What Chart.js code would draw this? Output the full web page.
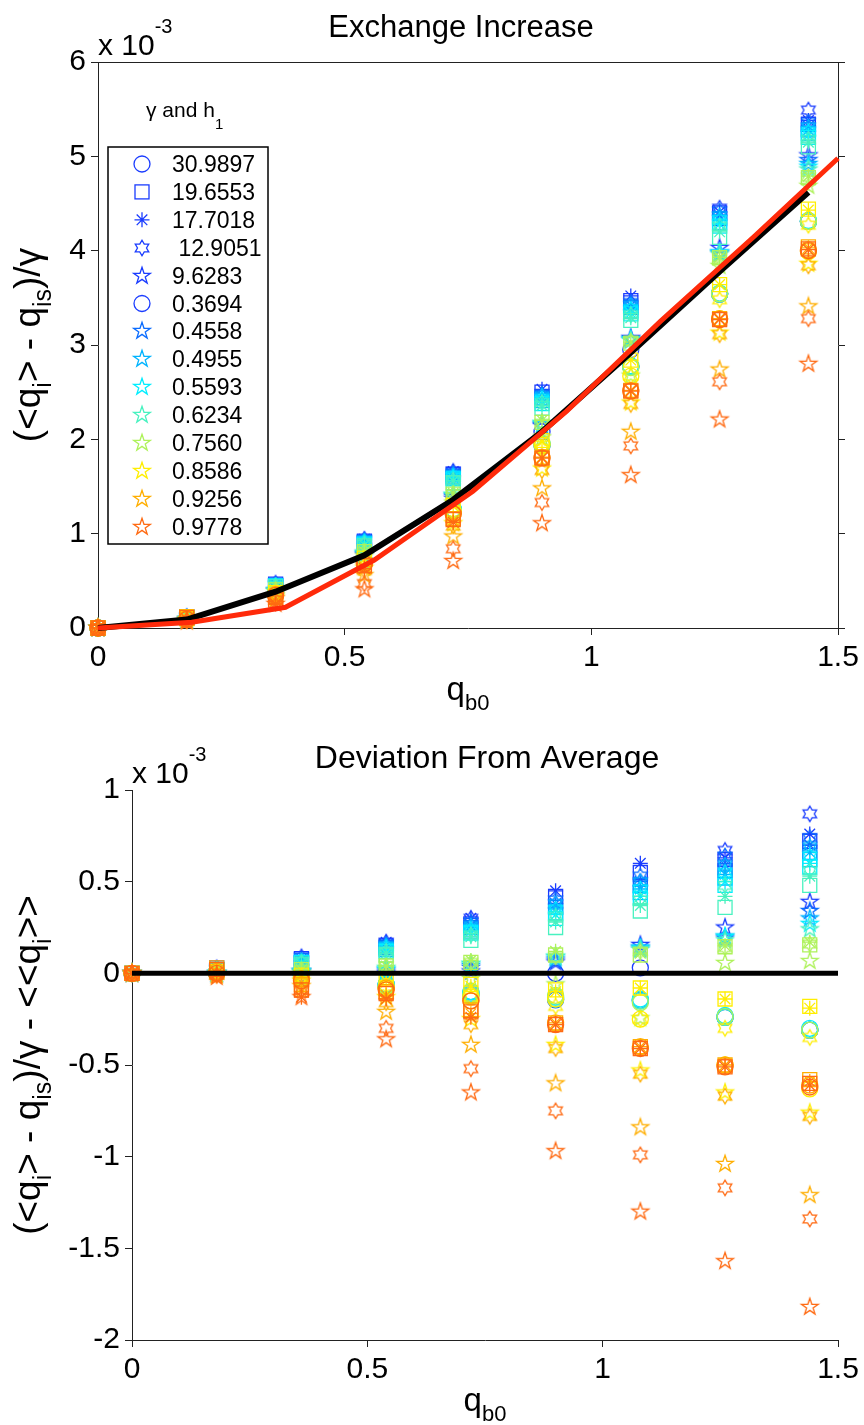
<!DOCTYPE html>
<html>
<head>
<meta charset="utf-8">
<script src="https://cdn.jsdelivr.net/npm/chart.js@4.4.1/dist/chart.umd.min.js"></script>
<style>
  html, body { margin: 0; padding: 0; background: #fff; }
  body { width: 864px; height: 1425px; position: relative; overflow: hidden; }
  .plot { position: absolute; left: 0; width: 864px; }
  #topWrap { top: 0; height: 725px; }
  #botWrap { top: 725px; height: 700px; }
</style>
</head>
<body>
<div class="plot" id="topWrap"><canvas id="topChart" width="864" height="725"></canvas></div>
<div class="plot" id="botWrap"><canvas id="botChart" width="864" height="700"></canvas></div>
<script>
// ---- data (y values in units of 1e-3) ----
const qb0 = [0, 0.18, 0.36, 0.54, 0.72, 0.9, 1.08, 1.26, 1.44];
const avgExchange = [0, 0.09, 0.385, 0.77, 1.36, 2.08, 2.92, 3.78, 4.62];   // black line, <<q_i>>
const theoryX = [0, 0.19, 0.38, 0.56, 0.76, 0.95, 1.14, 1.33, 1.5];       // red line
const theoryY = [0, 0.06, 0.22, 0.72, 1.45, 2.3, 3.25, 4.15, 4.98];
const zeroX = [0, 1.5];
const zeroY = [0, 0];

const gammaLabels = ['30.9897', '19.6553', '17.7018', ' 12.9051', '9.6283'];
const h1Labels = ['0.3694', '0.4558', '0.4955', '0.5593', '0.6234', '0.7560', '0.8586', '0.9256', '0.9778'];
const h1Colors = ['#1a3cff', '#0a6cff', '#00b4ff', '#00eeff', '#48f2c0', '#aef25a', '#ffee00', '#ffae00', '#ff6a12'];

// deviation from average, one row per h1 colour, columns follow qb0
const devCircle = [
  [0, 0.00, 0.00, -0.07, -0.12, 0.00, 0.03, -0.24, -0.31],
  [0, 0.00, -0.01, -0.06, -0.11, -0.145, -0.147, -0.235, -0.31],
  [0, 0.01, -0.01, -0.06, -0.10, -0.14, -0.15, -0.24, -0.31],
  [0, 0.01, -0.01, -0.06, -0.10, -0.13, -0.14, -0.23, -0.30],
  [0, 0.01, -0.02, -0.07, -0.11, -0.13, -0.15, -0.24, -0.31],
  [0, 0.00, -0.02, -0.07, -0.12, -0.12, -0.16, -0.235, -0.31],
  [0, 0.00, -0.03, -0.08, -0.13, -0.14, -0.25, -0.50, -0.63],
  [0, 0.01, -0.03, -0.08, -0.15, -0.27, -0.40, -0.50, -0.61],
  [0, 0.00, -0.04, -0.09, -0.15, -0.28, -0.41, -0.51, -0.62]
];
const devSquare = [
  [0, 0.03, 0.08, 0.15, 0.27, 0.42, 0.55, 0.62, 0.72],
  [0, 0.02, 0.07, 0.14, 0.25, 0.36, 0.48, 0.56, 0.66],
  [0, 0.02, 0.06, 0.13, 0.23, 0.33, 0.44, 0.52, 0.62],
  [0, 0.02, 0.06, 0.12, 0.22, 0.30, 0.41, 0.48, 0.58],
  [0, 0.02, 0.05, 0.10, 0.18, 0.25, 0.34, 0.36, 0.48],
  [0, 0.01, 0.02, 0.04, 0.06, 0.10, 0.10, 0.145, 0.155],
  [0, 0.01, -0.01, -0.03, -0.06, -0.09, -0.08, -0.14, -0.18],
  [0, 0.03, -0.06, -0.10, -0.20, -0.27, -0.40, -0.50, -0.58],
  [0, 0.02, -0.09, -0.11, -0.21, -0.28, -0.41, -0.51, -0.60]
];
const devAsterisk = [
  [0, 0.03, 0.08, 0.17, 0.30, 0.45, 0.60, 0.63, 0.76],
  [0, 0.02, 0.07, 0.15, 0.26, 0.38, 0.50, 0.59, 0.70],
  [0, 0.02, 0.07, 0.14, 0.25, 0.35, 0.46, 0.54, 0.66],
  [0, 0.02, 0.06, 0.13, 0.23, 0.32, 0.42, 0.50, 0.60],
  [0, 0.02, 0.05, 0.11, 0.20, 0.28, 0.37, 0.42, 0.53],
  [0, 0.01, 0.02, 0.04, 0.07, 0.12, 0.11, 0.15, 0.17],
  [0, 0.00, -0.02, -0.04, -0.07, -0.10, -0.08, -0.14, -0.19],
  [0, 0.01, -0.10, -0.12, -0.22, -0.27, -0.40, -0.50, -0.59],
  [0, 0.00, -0.13, -0.14, -0.24, -0.28, -0.41, -0.51, -0.61]
];
const devHexagram = [
  [0, 0.03, 0.09, 0.17, 0.30, 0.38, 0.50, 0.67, 0.87],
  [0, 0.02, 0.07, 0.16, 0.28, 0.40, 0.53, 0.64, 0.74],
  [0, 0.02, 0.07, 0.15, 0.26, 0.38, 0.50, 0.59, 0.69],
  [0, 0.02, 0.06, 0.14, 0.24, 0.35, 0.46, 0.55, 0.64],
  [0, 0.02, 0.06, 0.12, 0.21, 0.31, 0.40, 0.48, 0.56],
  [0, 0.01, 0.02, 0.04, 0.06, 0.09, 0.12, 0.14, 0.16],
  [0, 0.00, -0.02, -0.07, -0.13, -0.18, -0.25, -0.30, -0.35],
  [0, -0.01, -0.05, -0.16, -0.28, -0.41, -0.55, -0.67, -0.78],
  [0, -0.01, -0.09, -0.30, -0.52, -0.75, -0.99, -1.17, -1.34]
];
const devPentagram = [
  [0, 0.00, 0.01, 0.00, 0.01, 0.06, 0.155, 0.25, 0.39],
  [0, 0.00, 0.01, 0.01, 0.03, 0.07, 0.14, 0.19, 0.34],
  [0, 0.00, 0.01, 0.02, 0.04, 0.08, 0.13, 0.20, 0.30],
  [0, 0.00, 0.01, 0.02, 0.05, 0.09, 0.14, 0.20, 0.27],
  [0, 0.00, 0.01, 0.03, 0.05, 0.09, 0.13, 0.18, 0.24],
  [0, 0.00, 0.00, -0.01, -0.03, -0.06, -0.245, 0.057, 0.067],
  [0, -0.01, -0.04, -0.13, -0.25, -0.39, -0.53, -0.65, -0.76],
  [0, -0.01, -0.07, -0.21, -0.39, -0.60, -0.84, -1.04, -1.21],
  [0, -0.02, -0.13, -0.36, -0.65, -0.97, -1.30, -1.57, -1.82]
];

// ---- styling ----
const FONT = "'Liberation Sans', Arial, Helvetica, sans-serif";
const AXIS = '#222';
const MARK_W = 1.3;
const markerKinds = ['circle', 'rect', 'star', 'hexagram', 'pentagram'];
const devByMarker = [devCircle, devSquare, devAsterisk, devHexagram, devPentagram];
const markerRadius = { circle: 8, rect: 9.9, star: 7.5 };

function starCanvas(points, color, outer, inner) {
  const size = Math.ceil(outer * 2 + 4);
  const c = document.createElement('canvas');
  c.width = c.height = size;
  const g = c.getContext('2d');
  g.strokeStyle = color;
  g.lineWidth = MARK_W;
  g.beginPath();
  for (let k = 0; k < points * 2; k++) {
    const r = k % 2 ? inner : outer;
    const a = -Math.PI / 2 + k * Math.PI / points;
    const px = size / 2 + r * Math.cos(a), py = size / 2 + r * Math.sin(a);
    if (k) g.lineTo(px, py); else g.moveTo(px, py);
  }
  g.closePath();
  g.stroke();
  return c;
}
const starImgs = {
  pentagram: h1Colors.map(c => starCanvas(5, c, 8.8, 3.4)),
  hexagram: h1Colors.map(c => starCanvas(6, c, 7.8, 4.5))
};

function scatterSets(top) {
  const sets = [];
  // later h1 values were plotted last in the original, so they sit on top
  for (let c = h1Colors.length - 1; c >= 0; c--) {
    for (let m = markerKinds.length - 1; m >= 0; m--) {
      const kind = markerKinds[m];
      const dev = devByMarker[m][c];
      sets.push({
        data: qb0.map((x, i) => ({ x: x, y: top ? avgExchange[i] + dev[i] : dev[i] })),
        showLine: false,
        pointStyle: starImgs[kind] ? starImgs[kind][c] : kind,
        pointRadius: markerRadius[kind] || 8,
        pointBorderColor: h1Colors[c],
        pointBackgroundColor: 'rgba(0,0,0,0)',
        pointBorderWidth: MARK_W,
        clip: false
      });
    }
  }
  return sets;
}

function lineSet(xs, ys, color, width) {
  return {
    data: xs.map((x, i) => ({ x: x, y: ys[i] })),
    showLine: true,
    borderColor: color,
    borderWidth: width,
    pointRadius: 0,
    fill: false,
    clip: false
  };
}

// parts: [text, fontSize, dy]
function drawRich(ctx, parts, x, y, align) {
  let w = 0;
  parts.forEach(p => { ctx.font = p[1] + 'px ' + FONT; w += ctx.measureText(p[0]).width; });
  let cx = align === 'center' ? x - w / 2 : x;
  ctx.textAlign = 'left';
  ctx.textBaseline = 'alphabetic';
  parts.forEach(p => {
    ctx.font = p[1] + 'px ' + FONT;
    ctx.fillText(p[0], cx, y + p[2]);
    cx += ctx.measureText(p[0]).width;
  });
}

function drawMarker(ctx, kind, c, x, y) {
  ctx.strokeStyle = h1Colors[c];
  ctx.lineWidth = MARK_W;
  if (kind === 'circle') {
    ctx.beginPath(); ctx.arc(x, y, 8, 0, Math.PI * 2); ctx.stroke();
  } else if (kind === 'rect') {
    ctx.strokeRect(x - 7, y - 7, 14, 14);
  } else if (kind === 'star') {
    ctx.beginPath();
    for (let k = 0; k < 4; k++) {
      const a = k * Math.PI / 4;
      ctx.moveTo(x - 7.5 * Math.cos(a), y - 7.5 * Math.sin(a));
      ctx.lineTo(x + 7.5 * Math.cos(a), y + 7.5 * Math.sin(a));
    }
    ctx.stroke();
  } else {
    const img = starImgs[kind][c];
    ctx.drawImage(img, Math.round(x - img.width / 2), Math.round(y - img.height / 2));
  }
}

const legendLabels = gammaLabels.concat(h1Labels);
const legendMarkers = ['circle', 'rect', 'star', 'hexagram', 'pentagram', 'circle',
  'pentagram', 'pentagram', 'pentagram', 'pentagram', 'pentagram', 'pentagram', 'pentagram', 'pentagram'];
const legendColors = [0, 0, 0, 0, 0, 0, 1, 2, 3, 4, 5, 6, 7, 8];

const yTitleTop = [['(<q', 37, 0], ['i', 25, 11], ['> - q', 37, 0], ['is', 25, 11], [')/\u03b3', 37, 0]];
const yTitleBot = [['(<q', 37, 0], ['i', 25, 11], ['> - q', 37, 0], ['is', 25, 11], [')/\u03b3 - <<q', 37, 0], ['i', 25, 11], ['>>', 37, 0]];

function decor(cfg) {
  return {
    id: 'decor' + cfg.name,
    afterDraw(chart) {
      const ctx = chart.ctx;
      const a = chart.chartArea;
      ctx.save();
      ctx.fillStyle = '#000';
      if (cfg.frame) {
        ctx.strokeStyle = AXIS; ctx.lineWidth = 1;
        ctx.beginPath(); ctx.moveTo(a.left, a.top + 0.5); ctx.lineTo(a.right, a.top + 0.5); ctx.stroke();
      }
      drawRich(ctx, [[cfg.title, cfg.titleSize, 0]], cfg.titleX, cfg.titleY, 'center');
      drawRich(ctx, [['x 10', 30, 0], ['-3', 20, -22]], a.left, a.top - 7, 'left');
      drawRich(ctx, [['q', 33, 0], ['b0', 22, 10]], (a.left + a.right) / 2, cfg.xTitleY, 'center');
      ctx.save();
      ctx.translate(cfg.yTitleX, (a.top + a.bottom) / 2);
      ctx.rotate(-Math.PI / 2);
      drawRich(ctx, cfg.yTitle, 0, 0, 'center');
      ctx.restore();
      if (cfg.legend) {
        ctx.fillStyle = '#000';
        drawRich(ctx, [['\u03b3 and h', 21, 0], ['1', 15, 12]], 146, 117, 'left');
        ctx.fillStyle = '#fff';
        ctx.fillRect(108, 147, 160, 397);
        ctx.strokeStyle = '#000'; ctx.lineWidth = 1.5;
        ctx.strokeRect(108, 147, 160, 397);
        for (let i = 0; i < legendLabels.length; i++) {
          const y = 164 + i * 27.9;
          drawMarker(ctx, legendMarkers[i], legendColors[i], 142, y);
          ctx.fillStyle = '#000';
          drawRich(ctx, [[legendLabels[i], 23, 0]], 172, y + 8, 'left');
        }
      }
      ctx.restore();
    }
  };
}

function tickOpts(step) {
  return {
    font: { family: FONT, size: 30 }, color: '#000', padding: 5, maxRotation: 0, autoSkip: false,
    stepSize: step,
    callback: v => String(Math.round(v * 10) / 10)
  };
}

function axisOpts(extra) {
  return Object.assign({
    type: 'linear',
    border: { display: true, color: AXIS, width: 1 },
    grid: { drawOnChartArea: false, drawTicks: true, tickLength: 7, color: AXIS }
  }, extra);
}

const common = {
  responsive: false,
  animation: false,
  devicePixelRatio: 1,
  events: [],
  plugins: { legend: { display: false }, tooltip: { enabled: false }, title: { display: false } }
};

new Chart(document.getElementById('topChart'), {
  type: 'scatter',
  data: {
    datasets: [lineSet(theoryX, theoryY, '#ff2a0a', 5), lineSet(qb0, avgExchange, '#000', 6)].concat(scatterSets(true))
  },
  options: Object.assign({}, common, {
    layout: { padding: { top: 62, left: 0, right: 0, bottom: 0 } },
    scales: {
      x: axisOpts({ position: 'bottom', min: 0, max: 1.5, ticks: tickOpts(0.5),
        afterFit: s => { s.height = 97; } }),
      y: axisOpts({ position: 'left', min: 0, max: 6, ticks: tickOpts(1),
        afterFit: s => { s.width = 98; } }),
      yRight: axisOpts({ position: 'right', min: 0, max: 6, ticks: { display: false, stepSize: 1 },
        afterFit: s => { s.width = 26; } })
    }
  }),
  plugins: [decor({ name: 'Top', frame: true, legend: true, title: 'Exchange Increase', titleSize: 31,
    titleX: 461, titleY: 37, xTitleY: 700, yTitleX: 40, yTitle: yTitleTop })]
});

new Chart(document.getElementById('botChart'), {
  type: 'scatter',
  data: {
    datasets: [lineSet(zeroX, zeroY, '#000', 5)].concat(scatterSets(false))
  },
  options: Object.assign({}, common, {
    layout: { padding: { top: 65, left: 0, right: 26, bottom: 0 } },
    scales: {
      x: axisOpts({ position: 'bottom', min: 0, max: 1.5, ticks: tickOpts(0.5),
        afterFit: s => { s.height = 85; } }),
      y: axisOpts({ position: 'left', min: -2, max: 1, ticks: tickOpts(0.5),
        afterFit: s => { s.width = 132; } })
    }
  }),
  plugins: [decor({ name: 'Bot', frame: false, legend: false, title: 'Deviation From Average', titleSize: 32,
    titleX: 487, titleY: 43, xTitleY: 686, yTitleX: 40, yTitle: yTitleBot })]
});
</script>
</body>
</html>
